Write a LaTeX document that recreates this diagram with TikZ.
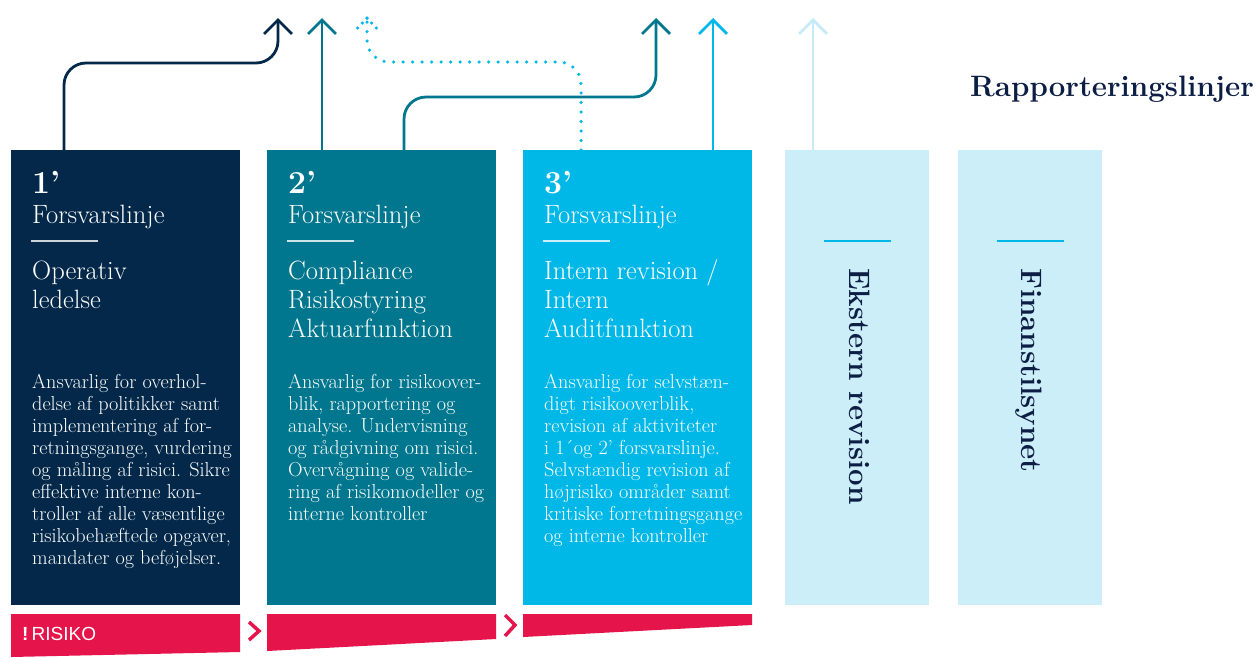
\documentclass[tikz,border=0pt]{standalone}
\usepackage{fontspec}
\newfontfamily\risikofont{Liberation Sans}
\usepackage{tikz}
\usetikzlibrary{positioning}
\usetikzlibrary{arrows.meta}

\definecolor{linje1}{HTML}{03284A}
\definecolor{linje2}{HTML}{00778E}
\definecolor{linje3}{HTML}{00B8E8}
\definecolor{ekstern}{HTML}{CCEEF8}
\definecolor{eksternpil}{HTML}{C6EBF8}
\definecolor{risiko}{HTML}{E5144A}
\definecolor{titel}{HTML}{0D1E45}

\begin{document}
\begin{tikzpicture}[x=1pt, y=-1pt,
    box/.style={anchor=north west, minimum width=229pt, minimum height=455pt, inner sep=0pt, outer sep=0pt},
    smallbox/.style={box, minimum width=144pt, fill=ekstern},
    num/.style={anchor=base west, inner sep=0pt, text=white, font=\fontsize{32}{32}\selectfont\bfseries},
    head/.style={anchor=base west, inner sep=0pt, text=white, align=left, font=\fontsize{26.5}{29}\selectfont},
    body/.style={anchor=base west, inner sep=0pt, text=white, align=left, font=\fontsize{20.2}{22}\selectfont},
    rule/.style={white, opacity=0.8, line width=1.5pt},
    side/.style={rotate=-90, anchor=mid west, inner sep=0pt, text=titel, font=\fontsize{29.5}{29.5}\selectfont\bfseries},
    rline/.style={line width=2.8pt, -{Straight Barb[length=14pt,width=28pt]}, rounded corners=22pt},
    dotline/.style={line width=3.5pt, line cap=round, dash pattern=on 0pt off 9.5pt, rounded corners=22pt},
    dothead/.style={line width=3.5pt, line cap=round, dash pattern=on 0pt off 6.85pt},
    chevron/.style={draw=risiko, line width=3.5pt}
]
\useasboundingbox (0,0) rectangle (1255,657);

% boxes
\node[box, fill=linje1] (b1) at (11,150) {};
\node[box, fill=linje2] (b2) [right=27pt of b1] {};
\node[box, fill=linje3] (b3) [right=27pt of b2] {};
\node[smallbox] (b4) [right=33pt of b3] {};
\node[smallbox] (b5) [right=29pt of b4] {};

% 1' forsvarslinje
\node[num] (n1) at ([xshift=21pt,yshift=-43pt]b1.north west) {1’};
\node[head] (h1) at ([xshift=21pt,yshift=-73pt]b1.north west) {Forsvarslinje};
\draw[rule] ([xshift=20pt,yshift=-91pt]b1.north west) -- ++(67,0);
\node[head] (u1) at ([xshift=21pt,yshift=-158pt]b1.north west) {Operativ\\ledelse};
\node[body] (d1) at ([xshift=21pt,yshift=-414pt]b1.north west) {Ansvarlig for overhol-\\delse af politikker samt\\implementering af for-\\retningsgange, vurdering\\og måling af risici. Sikre\\effektive interne kon-\\troller af alle væsentlige\\risikobehæftede opgaver,\\mandater og beføjelser.};

% 2' forsvarslinje
\node[num] (n2) at ([xshift=21pt,yshift=-43pt]b2.north west) {2’};
\node[head] (h2) at ([xshift=21pt,yshift=-73pt]b2.north west) {Forsvarslinje};
\draw[rule] ([xshift=20pt,yshift=-91pt]b2.north west) -- ++(67,0);
\node[head] (u2) at ([xshift=21pt,yshift=-187pt]b2.north west) {Compliance\\Risikostyring\\Aktuarfunktion};
\node[body] (d2) at ([xshift=21pt,yshift=-370pt]b2.north west) {Ansvarlig for risikoover-\\blik, rapportering og\\analyse. Undervisning\\og rådgivning om risici.\\Overvågning og valide-\\ring af risikomodeller og\\interne kontroller};

% 3' forsvarslinje
\node[num] (n3) at ([xshift=21pt,yshift=-43pt]b3.north west) {3’};
\node[head] (h3) at ([xshift=21pt,yshift=-73pt]b3.north west) {Forsvarslinje};
\draw[rule] ([xshift=20pt,yshift=-91pt]b3.north west) -- ++(67,0);
\node[head] (u3) at ([xshift=21pt,yshift=-187pt]b3.north west) {Intern revision /\\Intern\\Auditfunktion};
\node[body] (d3) at ([xshift=21pt,yshift=-392pt]b3.north west) {Ansvarlig for selvstæn-\\digt risikooverblik,\\revision af aktiviteter\\i 1´og 2’ forsvarslinje.\\Selvstændig revision af\\højrisiko områder samt\\kritiske forretningsgange\\og interne kontroller};

% ekstern revision, finanstilsynet
\draw[linje3, line width=2pt] ([xshift=-33.5pt,yshift=-91pt]b4.north) -- ++(67,0);
\draw[linje3, line width=2pt] ([xshift=-33.5pt,yshift=-91pt]b5.north) -- ++(67,0);
\node[side] (e4) at ([xshift=-5pt,yshift=-118pt]b4.north) {Ekstern revision};
\node[side] (e5) at ([xshift=-6pt,yshift=-118pt]b5.north) {Finanstilsynet};

\node[anchor=base west, inner sep=0pt, text=titel, font=\fontsize{29.5}{30}\selectfont\bfseries] (titel) at (970,96) {Rapporteringslinjer};

% rapporteringslinjer
\coordinate (t1) at (278,18);
\coordinate (t2) at (322,18);
\coordinate (t3) at (367,18);
\coordinate (t4) at (656,18);
\coordinate (t5) at (713,18);
\coordinate (t6) at (813,18);
\coordinate (k1) at (278,63);
\coordinate (k3) at (367,62);
\coordinate (k4) at (656,97);
\coordinate (s1) at ([xshift=53pt]b1.north west);
\coordinate (s3) at ([xshift=58pt]b3.north west);
\coordinate (s4) at ([xshift=137pt]b2.north west);

\draw[rline, linje1] (s1) |- (k1) -- (t1);
\draw[rline, linje2] (t2 |- b2.north) -- (t2);
\draw[dotline, linje3] (s3) |- (k3) -- (t3);
\draw[dothead, linje3] (t3) -- ([xshift=-14pt,yshift=-15pt]t3);
\draw[dothead, linje3] (t3) -- ([xshift=14pt,yshift=-15pt]t3);
\draw[rline, linje2] (s4) |- (k4) -- (t4);
\draw[rline, linje3] (t5 |- b3.north) -- (t5);
\draw[rline, eksternpil] (t6 |- b4.north) -- (t6);

% risiko
\fill[risiko] (11,614) -- (240,614) -- (240,652) -- (11,657) -- cycle;
\fill[risiko] (267,614) -- (496,614) -- (496,639) -- (267,651) -- cycle;
\fill[risiko] (523,614) -- (752,614) -- (752,625) -- (523,637) -- cycle;
\draw[chevron] (249,622) -- (259,631) -- (249,640);
\draw[chevron] (505,615) -- (515,625) -- (505,636);
\node[anchor=base west, inner sep=0pt, text=white, font=\risikofont\fontsize{19}{19}\selectfont] (risk) at (22,640) {\textbf{!}\,RISIKO};
\end{tikzpicture}
\end{document}
